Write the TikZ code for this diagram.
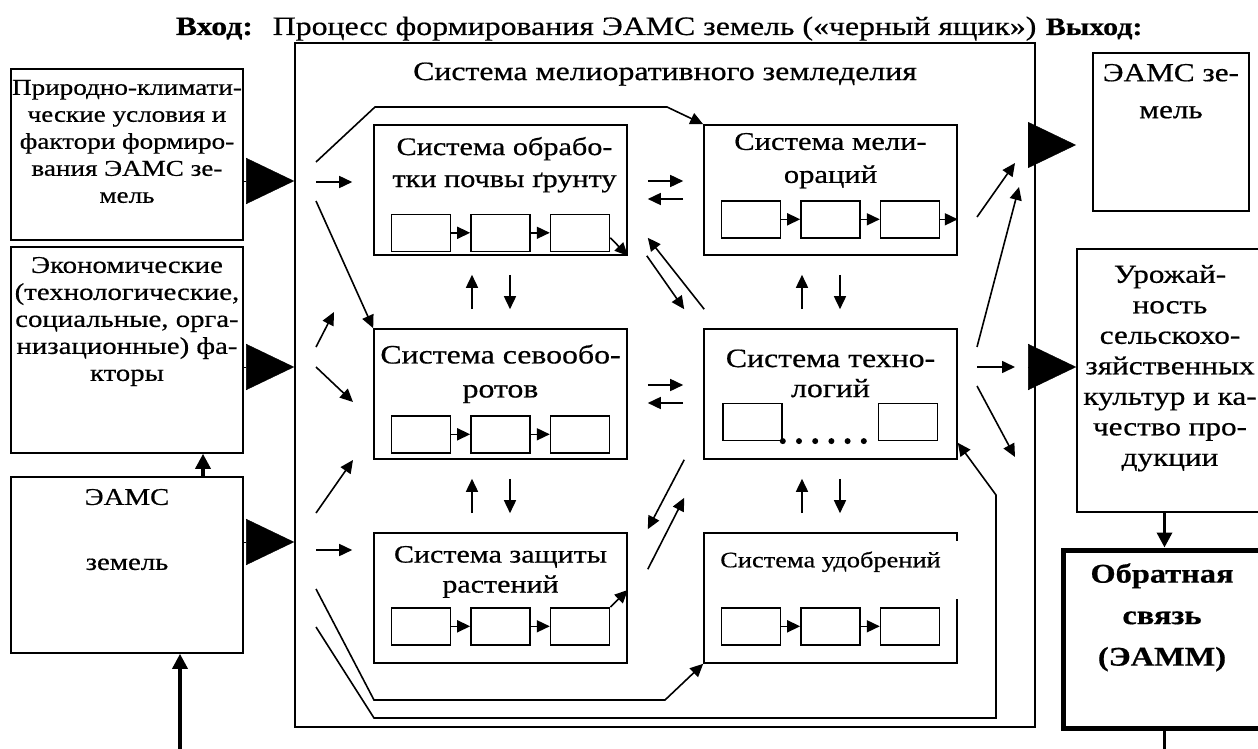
\documentclass[tikz,border=0pt]{standalone}
\usepackage{fontspec}
\setmainfont[FakeStretch=1.2,FakeBold=0.6]{Liberation Serif}
\usetikzlibrary{arrows.meta,positioning}
\newcommand{\sidefont}{\fontsize{24}{27}\selectfont}
\newcommand{\sysfont}{\fontsize{26.5}{32}\selectfont}
\newcommand{\outfont}{\fontsize{26}{30.5}\selectfont}
\begin{document}
\begin{tikzpicture}[x=1pt,y=-1pt,line width=1.6pt,
	frame/.style={draw,inner sep=0pt},
	sysbox/.style={draw,inner sep=0pt,minimum width=253pt,minimum height=130pt},
	cell/.style={draw,minimum width=59pt,minimum height=37pt,inner sep=0pt},
	txt/.style={align=center,inner sep=0pt,anchor=north},
	arr/.style={-{Triangle[length=13pt,width=12pt]}},
	bigtri/.style={line width=0.4pt,-{Triangle[length=48pt,width=46pt]}},
	thickarr/.style={line width=3.4pt,-{Triangle[length=15pt,width=15pt]}}]
	\useasboundingbox (0,0) rectangle (1258,749);
	\clip (0,0) rectangle (1258,749);
	%%%%%%%% title
	\node[anchor=base west,inner sep=0pt,font=\sysfont\bfseries] (vhod) at (175,35) {Вход:};
	\node[anchor=base west,inner sep=0pt,font=\sysfont] (proc) at (272,35) {Процесс формирования ЭАМС земель («черный ящик»)};
	\node[anchor=base west,inner sep=0pt,font=\fontsize{25}{30}\selectfont\bfseries] (vyhod) at (1045,35) {Выход:};
	%%%%%%%% black box
	\node[frame,minimum width=740pt,minimum height=684pt] (sys) at (665,385) {};
	\node[txt,font=\sysfont] (syst) at ([yshift=-19.5pt]sys.north) {Система мелиоративного земледелия};
	%%%%%%%% inputs
	\node[frame,minimum width=232pt,minimum height=171pt] (kli) at (127,154.5) {};
	\node[txt,font=\fontsize{22.6}{27}\selectfont] (klit) at ([yshift=-11pt]kli.north) {Природно-климати-\\ческие условия и\\фактори формиро-\\вания ЭАМС зе-\\мель};
	\node[frame,minimum width=232pt,minimum height=206pt] (eko) at (127,350) {};
	\node[txt,font=\sidefont] (ekot) at ([yshift=-10pt]eko.north) {Экономические\\(технологические,\\социальные, орга-\\низационные) фа-\\кторы};
	\node[frame,minimum width=232pt,minimum height=176pt] (eams) at (127,565) {};
	\node[txt,font=\sidefont] (eamst) at ([yshift=-12pt]eams.north) {ЭАМС\\[38pt]земель};
	%%%%%%%% outputs
	\node[frame,minimum width=156pt,minimum height=158pt] (res) at (1171,132) {};
	\node[txt,font=\fontsize{26}{37}\selectfont] (rest) at ([yshift=-11pt]res.north) {ЭАМС зе-\\мель};
	\node[frame,minimum width=186pt,minimum height=263pt] (urz) at (1170,380.5) {};
	\node[txt,font=\outfont] (urzt) at ([yshift=-16pt]urz.north) {Урожай-\\ность\\сельскохо-\\зяйственных\\культур и ка-\\чество про-\\дукции};
	\node[frame,line width=5pt,minimum width=203pt,minimum height=178pt] (ob) at (1164.5,639) {};
	\node[txt,font=\fontsize{27}{41.5}\selectfont\bfseries] (obt) at ([shift={(-2.5,15)}]ob.north) {Обратная\\связь\\(ЭАММ)};
	%%%%%%%% subsystems
	\node[sysbox] (obr) at (500.5,190) {};
	\node[sysbox] (mel) at (830.5,190) {};
	\node[sysbox] (sev) at (500.5,394) {};
	\node[sysbox] (teh) at (830.5,394) {};
	\node[sysbox] (zas) at (500.5,598) {};
	\node[sysbox] (udo) at (830.5,598) {};
	\node[txt,font=\fontsize{25.2}{32}\selectfont] (obrt) at ([shift={(4,12)}]obr.north) {Система обрабо-\\тки почвы ґрунту};
	\node[txt,font=\fontsize{25.5}{33}\selectfont] (melt) at ([yshift=-8pt]mel.north) {Система мели-\\ораций};
	\node[txt,font=\fontsize{26.5}{34}\selectfont] (sevt) at ([yshift=-15.5pt]sev.north) {Система севообо-\\ротов};
	\node[txt,font=\fontsize{26.5}{30}\selectfont] (teht) at ([yshift=-20.5pt]teh.north) {Система техно-\\логий};
	\node[txt,font=\fontsize{25}{30}\selectfont] (zast) at ([yshift=-13pt]zas.north) {Система защиты\\растений};
	\node[txt,font=\fontsize{22}{26}\selectfont] (udot) at ([yshift=-18.5pt]udo.north) {Система удобрений};
	\draw[white,line width=3pt] ([yshift=-9pt]udo.north east) -- ([yshift=-67pt]udo.north east);
	% chains of cells
	\foreach \bx/\d in {obr/23, mel/36.5, sev/25.5, zas/37.5, udo/37.5} {
		\node[cell] (\bx2) at ([yshift=\d pt]\bx.south) {};
		\node[cell,left=19pt of \bx2] (\bx1) {};
		\node[cell,right=19pt of \bx2] (\bx3) {};
		\draw[arr] (\bx1) -- (\bx2);
		\draw[arr] (\bx2) -- (\bx3);
	}
	\node[cell] (teh1) at ([shift={(-78,-38)}]teh.south) {};
	\node[cell] (teh2) at ([shift={(77.5,-38)}]teh.south) {};
	\foreach \i in {0,...,5}
		\fill ([xshift=\i*16.2pt]teh1.south east) circle (3pt);
	\draw[arr] ([yshift=-5pt]obr3.east) -- (obr.south east);
	\draw[arr] (mel3.east) -- (mel.east |- mel3.east);
	\draw[arr] (zas3.north east) -- ([yshift=8pt]zas.east);
	%%%%%%%% links between subsystems
	\foreach \a/\b in {obr/sev, sev/zas, mel/teh, teh/udo} {
		\draw[arr,shorten <=19pt,shorten >=19pt] ([xshift=-28.5pt]\b.north) -- ([xshift=-28.5pt]\a.south);
		\draw[arr,shorten <=19pt,shorten >=19pt] ([xshift=9.5pt]\a.south) -- ([xshift=9.5pt]\b.north);
	}
	\foreach \a/\b in {obr/mel, sev/teh} {
		\draw[arr,shorten <=20pt,shorten >=20pt] ([yshift=9pt]\a.east) -- ([yshift=9pt]\b.west);
		\draw[arr,shorten <=20pt,shorten >=20pt] ([yshift=-9pt]\b.west) -- ([yshift=-9pt]\a.east);
	}
	\draw[arr] ([shift={(1,-19)}]teh.north west) -- ([shift={(20,-18)}]obr.south east);
	\draw[arr] ([shift={(19,0)}]obr.south east) -- ([shift={(-19,-19)}]teh.north west);
	\draw[arr] ([shift={(-19,0)}]teh.south west) -- ([shift={(20,-3)}]zas.north east);
	\draw[arr] ([shift={(20,37)}]zas.north east) -- ([shift={(-19,38)}]teh.south west);
	%%%%%%%% free ends inside the black box
	\foreach \n/\x/\y in {l1/316/162, l2/316/182, l3/316/201, l4/316/347, l4e/334/312,
		l5/316/367, l5e/353/402, l6/316/513, l6e/353/460, l7/316/550, l8/316/589, l9/316/627,
		r1/977/217, r1e/1015/163, r2/977/347, r2e/1019/187, r3/977/367, r3e/1015/367,
		r4/977/386, r4e/1015/457}
		\coordinate (\n) at (\x,\y);
	\draw[arr] (l1) -- (375,107) -- (667,107) -- (mel.north west);
	\draw[arr,shorten >=21pt] (l2) -- (obr.west |- l2);
	\draw[arr] (l3) -- (sev.north west);
	\draw[arr] (l4) -- (l4e);
	\draw[arr] (l5) -- (l5e);
	\draw[arr] (l6) -- (l6e);
	\draw[arr,shorten >=21pt] (l7) -- (zas.west |- l7);
	\draw[arr] (l8) -- (374,700) -- (665,700) -- (udo.south west);
	\draw[arr] (l9) -- (374,718) -- (996,718) -- (996,495) -- ([yshift=17pt]teh.south east);
	\draw[arr] (r1) -- (r1e);
	\draw[arr] (r2) -- (r2e);
	\draw[arr] (r3) -- (r3e);
	\draw[arr] (r4) -- (r4e);
	%%%%%%%% big arrows in and out
	\coordinate (in1) at (0,181);
	\coordinate (in2) at (0,367);
	\coordinate (in3) at (0,542);
	\draw[bigtri] (kli.east |- in1) -- (sys.west |- in1);
	\draw[bigtri] (eko.east |- in2) -- (sys.west |- in2);
	\draw[bigtri] (eams.east |- in3) -- (sys.west |- in3);
	\coordinate (o1s) at (1028,145);
	\coordinate (o1e) at (1076,145);
	\coordinate (o2s) at (1028,367);
	\draw[bigtri] (o1s) -- (o1e);
	\draw[bigtri] (o2s) -- (urz.west |- o2s);
	%%%%%%%% feedback
	\draw[thickarr] ([xshift=76pt]eams.north) -- ([xshift=76pt]eko.south);
	\coordinate (fb) at (180,749);
	\draw[thickarr] (fb) -- (eams.south -| fb);
	\draw[thickarr] (urz.south -| ob.north) -- (ob.north);
	\draw[line width=3.4pt] (ob.south) -- ++(0,25);
\end{tikzpicture}
\end{document}
